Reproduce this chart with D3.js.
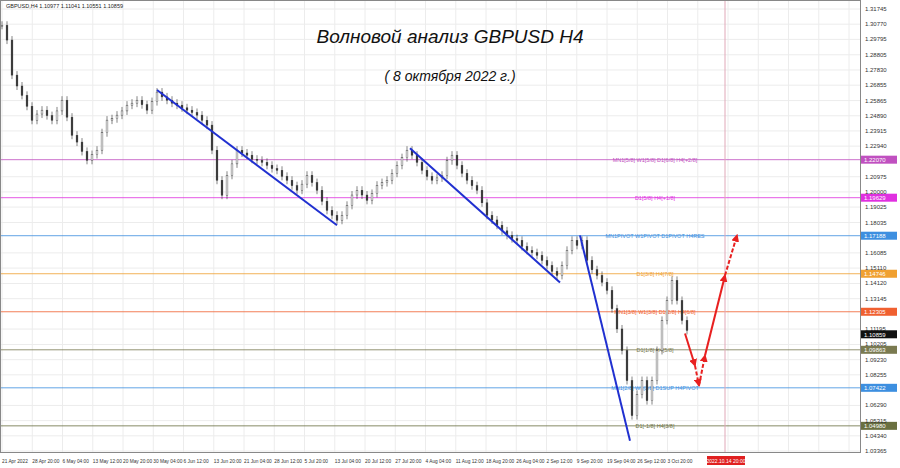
<!DOCTYPE html>
<html><head><meta charset="utf-8">
<script src="https://cdn.jsdelivr.net/npm/d3@7"></script>
<style>body{margin:0;background:#fff}text{font-family:"Liberation Sans",sans-serif}</style>
</head><body><svg id="c" width="900" height="468"></svg>
<script>
// closes, one every ~5px of the reference
const closes = [1.307,1.2975,1.275,1.268,1.262,1.255,1.246,1.250,1.2525,1.249,1.246,1.252,1.2589,1.248,1.2364,1.232,1.226,1.2203,1.224,1.2268,
1.238,1.2461,1.247,1.2493,1.252,1.2557,1.257,1.2589,1.256,1.2525,1.258,1.2641,1.261,1.2589,1.257,1.2557,1.254,1.2525,1.251,1.2493,
1.246,1.2429,1.2268,1.2075,1.1979,1.2107,1.218,1.2268,1.225,1.2236,1.221,1.2203,1.219,1.2171,1.215,1.2139,1.210,1.2075,1.204,1.2011,
1.205,1.2107,1.206,1.2011,1.194,1.1882,1.185,1.1818,1.185,1.1914,1.198,1.2011,1.198,1.1946,1.199,1.2043,1.206,1.2075,1.212,1.2171,
1.222,1.2268,1.2236,1.219,1.2139,1.210,1.2075,1.209,1.2107,1.220,1.2236,1.2171,1.212,1.2075,1.204,1.2011,1.193,1.1850,1.182,1.1786,
1.175,1.1721,1.170,1.1689,1.165,1.1625,1.161,1.1593,1.156,1.1528,1.149,1.1464,1.1528,1.1625,1.1689,1.1657,1.1689,1.1561,1.150,1.1464,
1.142,1.1368,1.125,1.112,1.0982,1.0789,1.0564,1.0700,1.0789,1.0660,1.0789,1.0982,1.1175,1.1303,1.1432,1.1303,1.1175,1.1111];
const yTicks = [1.31745,1.30770,1.29795,1.28805,1.27830,1.26855,1.25865,1.24890,1.23915,1.22940,1.20975,1.20000,1.19025,1.18035,
1.16085,1.15110,1.14120,1.13145,1.11195,1.10205,1.09230,1.08255,1.06290,1.05315,1.04340,1.03365];
const dateLabels = ["21 Apr 2022","28 Apr 20:00","6 May 04:00","13 May 12:00","20 May 20:00","30 May 04:00","6 Jun 12:00","13 Jun 20:00",
"21 Jun 04:00","28 Jun 12:00","5 Jul 20:00","13 Jul 04:00","20 Jul 12:00","27 Jul 20:00","4 Aug 04:00","11 Aug 12:00","18 Aug 20:00",
"26 Aug 04:00","2 Sep 12:00","9 Sep 20:00","19 Sep 04:00","26 Sep 12:00","3 Oct 20:00"];
const levels = [
  {p:1.22070,c:"#c050c0",t:"MN1[5/8] W1[5/8] D1[6/8] H4[+2/8]"},
  {p:1.19629,c:"#e030e0",t:"D1[5/8] H4[+1/8]"},
  {p:1.17188,c:"#3d8fe0",t:"MN1PIVOT W1PIVOT D1PIVOT H4RES"},
  {p:1.14746,c:"#f0a030",t:"D1[3/8] H4[7/8]"},
  {p:1.12305,c:"#f06030",t:"MN1[3/8] W1[3/8] D1[2/8] H4[6/8]"},
  {p:1.09863,c:"#7a7a50",t:"D1[1/8] H4[5/8]"},
  {p:1.07422,c:"#3d8fe0",t:"MN1[2/8] W1[2/8] D1SUP H4PIVOT"},
  {p:1.04980,c:"#6a7040",t:"D1[-1/8] H4[3/8]"}];
const trends = [[[31,1.2654],[67,1.1786]],[[81.6,1.2281],[111.6,1.1419]],[[115.6,1.1721],[125.6,1.0403]]];
const forecast = [[136.6,1.1091],[138.6,1.0885],[139.4,1.0757],[140.6,1.0950],[144.6,1.1464],[147,1.1721]];
const forecastDash = [false,true,true,false,true];
const lastPrice = 1.10859, futureIdx = 144.6;

const svg = d3.select("#c");
const W = 860, H = 452;
const x = d3.scaleLinear().domain([0,172]).range([2,W+2]);
const y = d3.scaleLinear().domain([1.03265+0.001,1.31745]).range([H-1,9]);

// grid
const g = svg.append("g");
g.selectAll(".hg").data(yTicks).enter().append("line")
  .attr("x1",0).attr("x2",W).attr("y1",d=>y(d)).attr("y2",d=>y(d)).attr("stroke","#ececec");
g.selectAll(".vg").data(d3.range(0,172,6.05)).enter().append("line")
  .attr("y1",0).attr("y2",H).attr("x1",d=>x(d)).attr("x2",d=>x(d)).attr("stroke","#ececec");

// levels
levels.forEach(l=>{
  g.append("line").attr("x1",0).attr("x2",W).attr("y1",y(l.p)).attr("y2",y(l.p)).attr("stroke",l.c).attr("opacity",0.8);
  g.append("text").attr("x",655).attr("y",y(l.p)+2).attr("text-anchor","middle").attr("font-size",5.5).attr("fill",l.c).text(l.t);
  svg.append("rect").attr("x",W+1).attr("y",y(l.p)-4).attr("width",36).attr("height",8).attr("fill",l.c);
  svg.append("text").attr("x",W+4).attr("y",y(l.p)+2.5).attr("font-size",6).attr("fill","#fff").text(l.p.toFixed(5));
});
// future vertical line
g.append("line").attr("x1",x(futureIdx)).attr("x2",x(futureIdx)).attr("y1",0).attr("y2",H).attr("stroke","#e0a8b8");

// candles
const cg = svg.append("g");
closes.forEach((c,i)=>{
  const o = i ? closes[i-1] : c;
  const cx = x(i);
  cg.append("line").attr("x1",cx).attr("x2",cx).attr("y1",y(Math.max(o,c))-4).attr("y2",y(Math.min(o,c))+4).attr("stroke","#333").attr("stroke-width",0.6);
  cg.append("rect").attr("x",cx-0.9).attr("width",1.8).attr("y",y(Math.max(o,c))).attr("height",Math.max(1,Math.abs(y(o)-y(c))))
    .attr("fill",c>=o?"#fff":"#333").attr("stroke","#333").attr("stroke-width",0.4);
});

// trend lines
trends.forEach(t=>svg.append("line").attr("x1",x(t[0][0])).attr("y1",y(t[0][1])).attr("x2",x(t[1][0])).attr("y2",y(t[1][1]))
  .attr("stroke","#2030d0").attr("stroke-width",2));

// forecast
svg.append("defs").append("marker").attr("id","ah").attr("viewBox","0 0 10 10").attr("refX",8).attr("refY",5)
  .attr("markerWidth",4).attr("markerHeight",4).attr("orient","auto").append("path").attr("d","M0,0L10,5L0,10z").attr("fill","#e82020");
for(let i=0;i<forecast.length-1;i++){
  svg.append("line").attr("x1",x(forecast[i][0])).attr("y1",y(forecast[i][1])).attr("x2",x(forecast[i+1][0])).attr("y2",y(forecast[i+1][1]))
    .attr("stroke","#e82020").attr("stroke-width",2).attr("stroke-dasharray",forecastDash[i]?"4,2":null).attr("marker-end","url(#ah)");
}

// frame & axes
svg.append("rect").attr("x",0.5).attr("y",0.5).attr("width",W).attr("height",H).attr("fill","none").attr("stroke","#888");
svg.selectAll(".yt").data(yTicks).enter().append("text").attr("x",W+5).attr("y",d=>y(d)+2).attr("font-size",6).attr("fill","#333").text(d=>d.toFixed(5));
svg.selectAll(".xt").data(dateLabels).enter().append("text").attr("x",(d,i)=>x(i*6.05)).attr("y",H+11).attr("font-size",4.8).attr("fill","#333").text(d=>d);
svg.append("rect").attr("x",W+1).attr("y",y(lastPrice)-4).attr("width",36).attr("height",8).attr("fill","#111");
svg.append("text").attr("x",W+4).attr("y",y(lastPrice)+2.5).attr("font-size",6).attr("fill","#fff").text(lastPrice.toFixed(5));
svg.append("rect").attr("x",x(futureIdx)-18).attr("y",H+4).attr("width",38).attr("height",9).attr("fill","#e02020");
svg.append("text").attr("x",x(futureIdx)+1).attr("y",H+10.5).attr("text-anchor","middle").attr("font-size",5).attr("fill","#fff").text("2022.10.14 20:00");

// titles
svg.append("text").attr("x",6).attr("y",8).attr("font-size",5.5).attr("fill","#222").text("GBPUSD,H4  1.10977 1.11041 1.10551 1.10859");
svg.append("text").attr("x",450).attr("y",43).attr("text-anchor","middle").attr("font-size",19).attr("font-style","italic")
  .attr("font-family","DejaVu Serif, serif").attr("fill","#111").text("Волновой анализ GBPUSD H4");
svg.append("text").attr("x",450).attr("y",81).attr("text-anchor","middle").attr("font-size",14).attr("font-style","italic")
  .attr("font-family","DejaVu Serif, serif").attr("fill","#111").text("( 8 октября 2022 г.)");
</script></body></html>
